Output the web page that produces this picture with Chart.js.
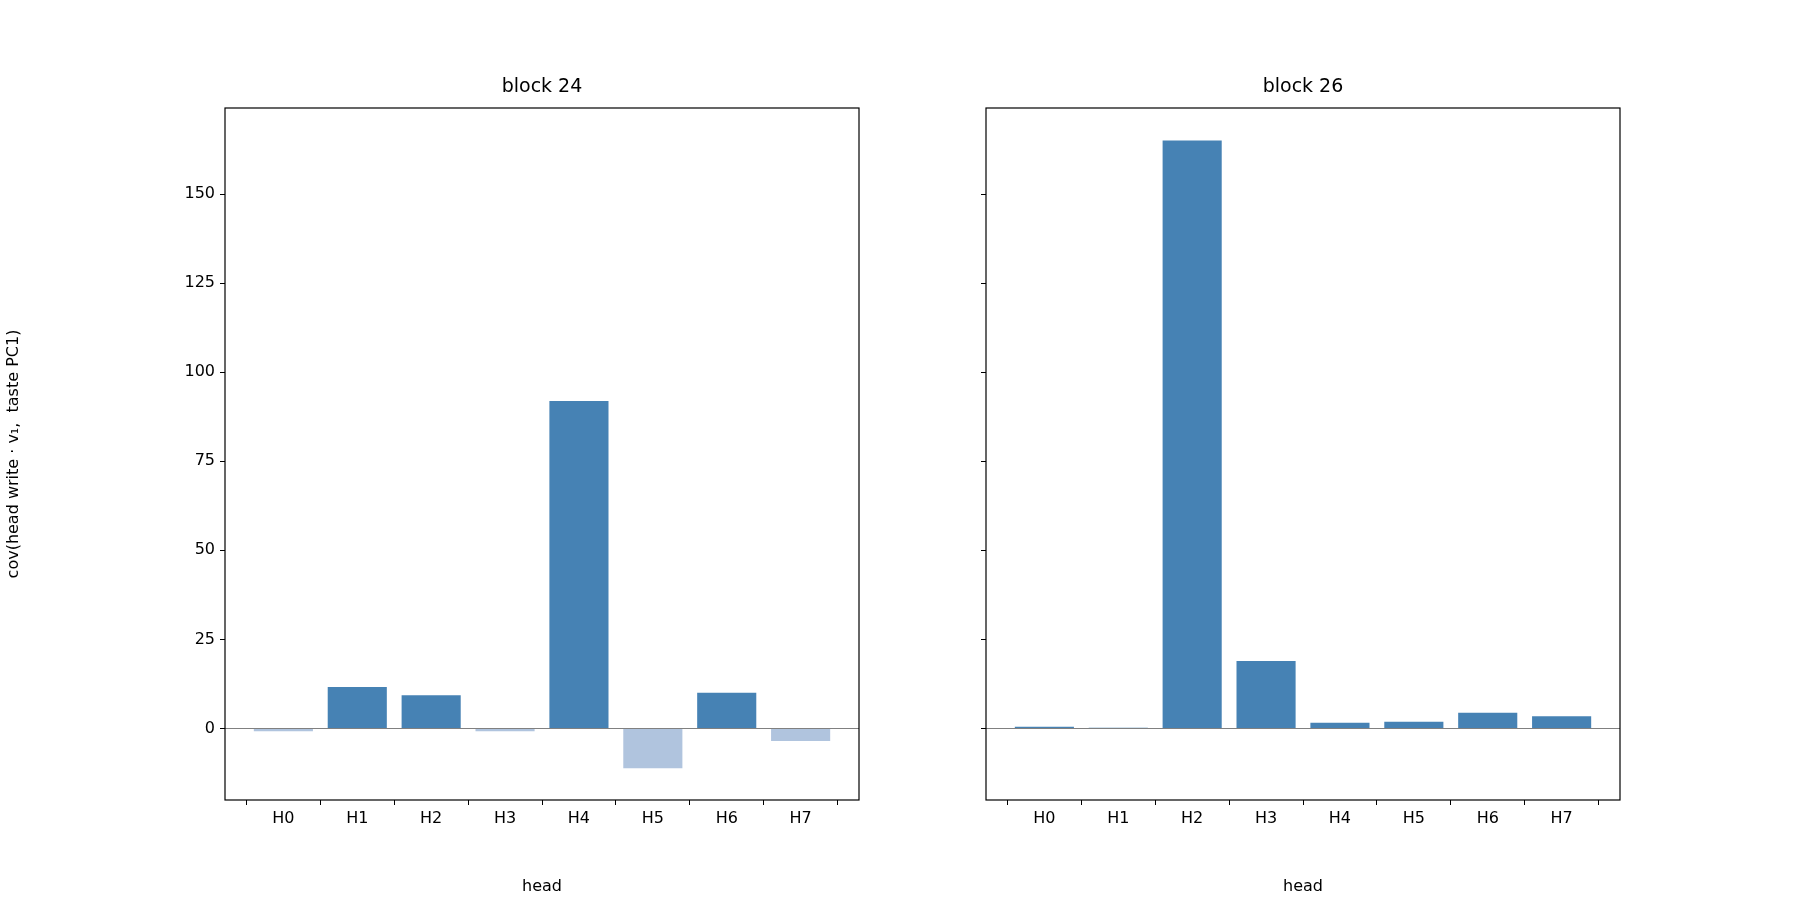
<!DOCTYPE html>
<html><head><meta charset="utf-8">
<script src="https://cdn.jsdelivr.net/npm/chart.js@4.4.0/dist/chart.umd.min.js"></script>
<style>
body{margin:0;background:#fff;width:1800px;height:900px;position:relative;overflow:hidden;font-family:"DejaVu Sans",sans-serif}
.box{position:absolute;top:0;height:900px}
.t{position:absolute;top:74px;font-size:19px;color:#000;text-align:center}
</style></head><body>
<div class="box" style="left:0;width:880px"><canvas id="c1"></canvas></div>
<div class="box" style="left:880px;width:920px"><canvas id="c2"></canvas></div>
<div class="t" style="left:225px;width:634px">block 24</div>
<div class="t" style="left:986px;width:634px">block 26</div>
<script>
const heads = ["H0","H1","H2","H3","H4","H5","H6","H7"];
const block24 = [-0.8, 11.6, 9.3, -0.8, 91.9, -11.2, 10.0, -3.5];
const block26 = [0.5, 0.2, 165.1, 18.9, 1.6, 1.9, 4.4, 3.4];
const yTicks = [0, 25, 50, 75, 100, 125, 150];
const yMin = -20.1, yMax = 174.2;
const xMin = -0.79, xMax = 7.79;
const POS = "#4682b4", NEG = "#b0c4de";
const F = "'DejaVu Sans'";

const framePlugin = {
  id: "frame",
  afterDatasetsDraw(chart){
    const {ctx, chartArea:a, scales} = chart;
    const y0 = scales.y.getPixelForValue(0);
    ctx.save();
    ctx.strokeStyle = "#808080"; ctx.lineWidth = 1;
    ctx.beginPath(); ctx.moveTo(a.left, Math.round(y0)+0.5); ctx.lineTo(a.right, Math.round(y0)+0.5); ctx.stroke();
    ctx.strokeStyle = "#000"; ctx.lineWidth = 1.2;
    ctx.strokeRect(a.left, a.top, a.right-a.left, a.bottom-a.top);
    ctx.restore();
  }
};

function make(id, vals, showY, leftW, rightPad){
  new Chart(document.getElementById(id), {
    type: "bar",
    data: { datasets: [{
      data: vals.map((v,i)=>({x:i, y:v})),
      backgroundColor: vals.map(v => v < 0 ? NEG : POS),
      borderWidth: 0, barPercentage: 0.8, categoryPercentage: 1.0
    }]},
    options: {
      responsive: false, animation: false, devicePixelRatio: 1,
      layout: { padding: { top: 108, right: rightPad, left: 0, bottom: 0 } },
      plugins: { legend: {display:false}, tooltip: {enabled:false} },
      scales: {
        x: {
          type: "linear", min: xMin, max: xMax, offset: false,
          afterBuildTicks(s){ s.ticks = heads.map((_,i)=>({value:i})); },
          afterFit(s){ s.height = 100; },
          grid: { display: true, drawOnChartArea: false, tickLength: 5, color: "#000" },
          border: { display: false },
          ticks: { callback: v => heads[v], color: "#000", font: {family: F, size: 16}, padding: 4, maxRotation: 0, autoSkip: false },
          title: { display: true, text: "head", color: "#000", font: {family: F, size: 16}, padding: {top: 2} }
        },
        y: {
          min: yMin, max: yMax,
          afterBuildTicks(s){ s.ticks = yTicks.map(v=>({value:v})); },
          afterFit(s){ s.width = leftW; },
          grid: { display: true, drawOnChartArea: false, tickLength: 5, color: "#000" },
          border: { display: false },
          ticks: { display: true, color: showY ? "#000" : "rgba(0,0,0,0)", font: {family: F, size: 16}, padding: 5 },
          title: { display: showY, text: "cov(head write \u00b7 v\u2081,  taste PC1)", color: "#000", font: {family: F, size: 16}, padding: {bottom: 10} }
        }
      }
    },
    plugins: [framePlugin]
  });
}
document.getElementById("c1").width = 880; document.getElementById("c1").height = 900;
document.getElementById("c2").width = 920; document.getElementById("c2").height = 900;
make("c1", block24, true, 225, 21);
make("c2", block26, false, 106, 180);
</script>
</body></html>
